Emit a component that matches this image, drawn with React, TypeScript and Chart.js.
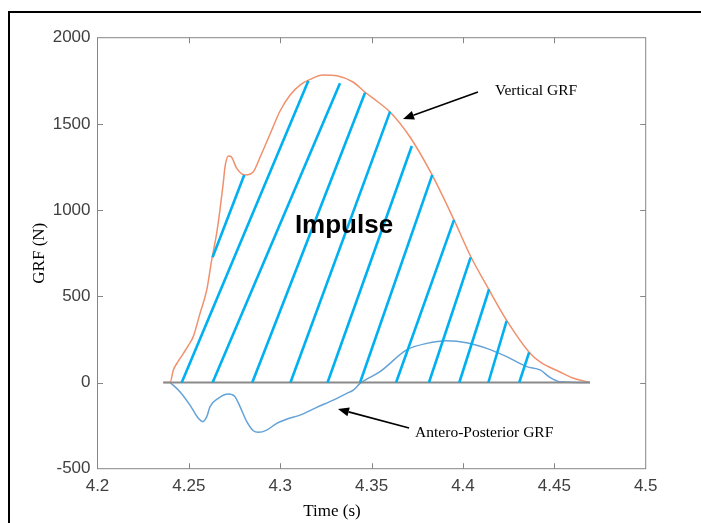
import React, { useEffect, useRef } from "react";
import { Chart, registerables } from "chart.js";

Chart.register(...registerables);

// ---- Data ----
const timeV = [4.2360, 4.2397, 4.2415, 4.2440, 4.2470, 4.2500, 4.2524, 4.2561, 4.2598, 4.2625, 4.2652, 4.2670, 4.2688, 4.2698, 4.2716, 4.2731, 4.2762, 4.2807, 4.2853, 4.2889, 4.2944, 4.2999, 4.3054, 4.3108, 4.3163, 4.3234, 4.3310, 4.3398, 4.3463, 4.3535, 4.3601, 4.3710, 4.3831, 4.3951, 4.4044, 4.4143, 4.4241, 4.4361, 4.4422, 4.4531, 4.4602, 4.4695];
const grfV = [0, 0, 72, 120, 169, 220, 266, 401, 537, 711, 865, 1000, 1155, 1252, 1314, 1310, 1242, 1204, 1223, 1305, 1440, 1575, 1668, 1725, 1758, 1784, 1779, 1743, 1685, 1627, 1569, 1424, 1204, 943, 728, 537, 357, 177, 119, 61, 26, 0];

const timeAP = [4.2397, 4.2451, 4.2506, 4.2552, 4.2576, 4.2598, 4.2616, 4.2661, 4.2716, 4.2752, 4.2780, 4.2817, 4.2853, 4.2880, 4.2926, 4.2981, 4.3035, 4.3108, 4.3200, 4.3290, 4.3364, 4.3400, 4.3437, 4.3546, 4.3692, 4.3802, 4.3911, 4.4020, 4.4130, 4.4239, 4.4349, 4.4422, 4.4476, 4.4531, 4.4695];
const grfAP = [0, -53, -131, -208, -227, -198, -140, -92, -67, -82, -140, -227, -280, -289, -276, -237, -213, -189, -144, -102, -63, -44, -5, 63, 189, 227, 242, 231, 198, 150, 92, 73, 30, 5, 0];

const baseX = [4.236, 4.4695];
const baseY = [0, 0];

// Impulse hatch segments (start -> end)
const hatchX0 = [4.2630, 4.2461, 4.2630, 4.2847, 4.3056, 4.3259, 4.3437, 4.3634, 4.3814, 4.3980, 4.4139, 4.4308];
const hatchY0 = [726, 0, 0, 0, 0, 0, 0, 0, 0, 0, 0, 0];
const hatchX1 = [4.2803, 4.3154, 4.3327, 4.3464, 4.3601, 4.3720, 4.3832, 4.3951, 4.4042, 4.4143, 4.4239, 4.4362];
const hatchY1 = [1204, 1750, 1736, 1681, 1571, 1372, 1204, 943, 726, 541, 358, 175];

const xMin = 4.2, xMax = 4.5, xStep = 0.05;
const yMin = -500, yMax = 2000, yStep = 500;

const xTitle = "Time (s)";
const yTitle = "GRF (N)";
const impulseLabel = "Impulse";
const vertLabel = "Vertical GRF";
const apLabel = "Antero-Posterior GRF";

// annotation anchors in data coordinates
const impulsePos = { x: 4.3349, y: 908 };
const vertArrow = { x0: 4.4082, y0: 1685, x1: 4.3672, y1: 1528 };
const vertTextPos = { x: 4.4175, y: 1692 };
const apArrow = { x0: 4.3705, y0: -264, x1: 4.3316, y1: -154 };
const apTextPos = { x: 4.3738, y: -293 };

const SANS = "'Liberation Sans', Arial, Helvetica, sans-serif";
const SERIF = "'Liberation Serif', 'Times New Roman', serif";

function drawArrow(ctx: CanvasRenderingContext2D, x0: number, y0: number, x1: number, y1: number) {
  const ang = Math.atan2(y1 - y0, x1 - x0);
  const hl = 11, hw = 4.5;
  const bx = x1 - hl * Math.cos(ang), by = y1 - hl * Math.sin(ang);
  ctx.beginPath();
  ctx.moveTo(x0, y0);
  ctx.lineTo(bx, by);
  ctx.lineWidth = 1.6;
  ctx.strokeStyle = "#000";
  ctx.stroke();
  ctx.beginPath();
  ctx.moveTo(x1, y1);
  ctx.lineTo(bx + hw * Math.sin(ang), by - hw * Math.cos(ang));
  ctx.lineTo(bx - hw * Math.sin(ang), by + hw * Math.cos(ang));
  ctx.closePath();
  ctx.fillStyle = "#000";
  ctx.fill();
}

const boxPlugin = {
  id: "matlabBox",
  afterDatasetsDraw(chart: any) {
    const { ctx, chartArea: a, scales } = chart;
    const x = scales.x, y = scales.y;
    ctx.save();
    ctx.strokeStyle = "#858585";
    ctx.lineWidth = 1;
    ctx.strokeRect(a.left, a.top, a.right - a.left, a.bottom - a.top);
    const tl = 5.5;
    ctx.beginPath();
    x.ticks.forEach((t: any) => {
      const px = Math.round(x.getPixelForValue(t.value)) + 0.5;
      if (px <= a.left + 1 || px >= a.right - 1) return;
      ctx.moveTo(px, a.bottom); ctx.lineTo(px, a.bottom - tl);
      ctx.moveTo(px, a.top); ctx.lineTo(px, a.top + tl);
    });
    y.ticks.forEach((t: any) => {
      const py = Math.round(y.getPixelForValue(t.value)) + 0.5;
      if (py <= a.top + 1 || py >= a.bottom - 1) return;
      ctx.moveTo(a.left, py); ctx.lineTo(a.left + tl, py);
      ctx.moveTo(a.right, py); ctx.lineTo(a.right - tl, py);
    });
    ctx.stroke();
    ctx.restore();
  },
  afterDraw(chart: any) {
    const { ctx, chartArea: a, scales } = chart;
    const x = scales.x, y = scales.y;
    ctx.save();
    // axis titles
    ctx.fillStyle = "#000";
    ctx.font = `17px ${SERIF}`;
    ctx.textAlign = "center";
    ctx.textBaseline = "middle";
    ctx.fillText(xTitle, a.left + 234.5, a.bottom + 43);
    ctx.save();
    ctx.translate(40, (a.top + a.bottom) / 2);
    ctx.rotate(-Math.PI / 2);
    ctx.fillText(yTitle, 0, 0);
    ctx.restore();
    // impulse label
    ctx.font = `bold 26px ${SANS}`;
    ctx.fillText(impulseLabel, x.getPixelForValue(impulsePos.x), y.getPixelForValue(impulsePos.y));
    // annotations
    ctx.font = `15.5px ${SERIF}`;
    ctx.textAlign = "left";
    ctx.fillText(vertLabel, x.getPixelForValue(vertTextPos.x), y.getPixelForValue(vertTextPos.y));
    ctx.fillText(apLabel, x.getPixelForValue(apTextPos.x), y.getPixelForValue(apTextPos.y));
    drawArrow(ctx, x.getPixelForValue(vertArrow.x0), y.getPixelForValue(vertArrow.y0), x.getPixelForValue(vertArrow.x1), y.getPixelForValue(vertArrow.y1));
    drawArrow(ctx, x.getPixelForValue(apArrow.x0), y.getPixelForValue(apArrow.y0), x.getPixelForValue(apArrow.x1), y.getPixelForValue(apArrow.y1));
    ctx.restore();
  },
};

export default function App() {
  const ref = useRef<HTMLCanvasElement>(null);
  useEffect(() => {
    const canvas = ref.current;
    if (!canvas) return;
    const pts = (xs: number[], ys: number[]) => xs.map((v, i) => ({ x: v, y: ys[i] }));
    const datasets: any[] = [];
    hatchX0.forEach((x0, i) => {
      datasets.push({
        data: [{ x: x0, y: hatchY0[i] }, { x: hatchX1[i], y: hatchY1[i] }],
        borderColor: "#00B0F0",
        borderWidth: 2.6,
        borderCapStyle: "butt",
        pointRadius: 0,
        order: 0,
      });
    });
    datasets.push({ data: pts(baseX, baseY), borderColor: "#8a8a8a", borderWidth: 2.2, pointRadius: 0, order: 1 });
    datasets.push({ data: pts(timeAP, grfAP), borderColor: "#64A2D8", borderWidth: 1.5, pointRadius: 0, cubicInterpolationMode: "monotone", order: 2 });
    datasets.push({ data: pts(timeV, grfV), borderColor: "#F0906C", borderWidth: 1.5, pointRadius: 0, cubicInterpolationMode: "monotone", order: 3 });

    const tickFont = { family: SANS, size: 17 };
    const chart = new Chart(canvas, {
      type: "line",
      data: { datasets },
      options: {
        animation: false,
        responsive: false,
        maintainAspectRatio: false,
        parsing: true,
        layout: { padding: { left: 0, top: 37.7, right: 55.3, bottom: 0 } },
        plugins: { legend: { display: false }, tooltip: { enabled: false }, title: { display: false } },
        scales: {
          x: {
            type: "linear",
            min: xMin,
            max: xMax,
            afterFit: (s: any) => { s.height = 54.3; },
            grid: { display: false, drawTicks: false },
            border: { display: false },
            ticks: {
              stepSize: xStep,
              padding: 7,
              color: "#404040",
              font: tickFont,
              maxRotation: 0,
              autoSkip: false,
              callback: (v: any) => String(+Number(v).toFixed(2)),
            },
          },
          y: {
            type: "linear",
            min: yMin,
            max: yMax,
            afterFit: (s: any) => { s.width = 97.5; },
            grid: { display: false, drawTicks: false },
            border: { display: false },
            ticks: {
              stepSize: yStep,
              padding: 7,
              color: "#404040",
              font: tickFont,
              callback: (v: any) => String(v),
            },
          },
        },
      } as any,
      plugins: [boxPlugin],
    });
    return () => chart.destroy();
  }, []);

  return (
    <div style={{ position: "absolute", left: 0, top: 0, width: 701, height: 523, background: "#fff", overflow: "hidden" }}>
      <div style={{ position: "absolute", left: 8, top: 11, width: 700, height: 520, borderTop: "2px solid #000", borderLeft: "2px solid #000" }} />
      <canvas ref={ref} width={701} height={523} style={{ position: "absolute", left: 0, top: 0 }} />
    </div>
  );
}
